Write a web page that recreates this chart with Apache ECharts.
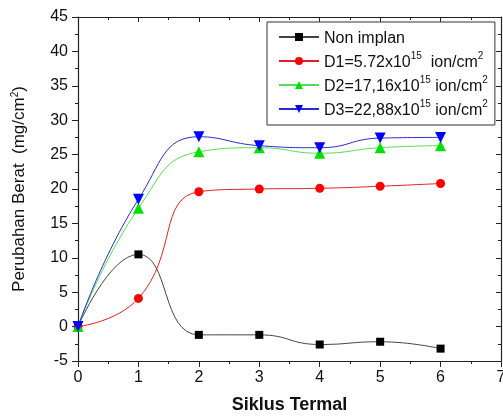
<!DOCTYPE html>
<html>
<head>
<meta charset="utf-8">
<script src="https://cdn.jsdelivr.net/npm/echarts@6/dist/echarts.min.js"></script>
<style>
  html, body { margin: 0; padding: 0; background: #fff; }
  #chart { width: 503px; height: 416px; }
</style>
</head>
<body>
<div id="chart"></div>
<script>
// siklus termal (x) dan perubahan berat (mg/cm2)
const cycles = [0, 1, 2, 3, 4, 5, 6];
const nonImplan = [0, 10.5, -1.2, -1.2, -2.6, -2.2, -3.2];
const d1 = [0, 4.1, 19.6, 20.0, 20.1, 20.4, 20.8];
const d2 = [0, 17.2, 25.4, 26.0, 25.2, 26.0, 26.3];
const d3 = [0, 18.5, 27.6, 26.3, 26.0, 27.4, 27.5];
const seriesNames = [
  'Non implan',
  'D1=5.72x10^15  ion/cm^2',
  'D2=17,16x10^15 ion/cm^2',
  'D3=22,88x10^15 ion/cm^2'
];

const FONT = 'Liberation Sans, Arial, sans-serif';
const pairs = ys => cycles.map((x, i) => [x, ys[i]]);

// teks biasa di bawah, pangkat di atas
const toRich = s => s.split(/(\^\d+)/).filter(p => p).map(p =>
  p[0] === '^' ? '{sup|' + p.slice(1) + '}' : '{t|' + p + '}'
).join('');

const chart = echarts.init(document.getElementById('chart'));

const mkSeries = (name, ys, lineColor, markColor, symbol, size, rotate) => ({
  name: name,
  type: 'line',
  data: pairs(ys),
  smooth: 0.5,
  symbol: symbol,
  symbolSize: size,
  symbolRotate: rotate || 0,
  lineStyle: { color: lineColor, width: 1 },
  itemStyle: { color: markColor },
  z: 3
});

const frameAxis = { show: true, onZero: false, lineStyle: { color: '#222', width: 1.2 } };

chart.setOption({
  animation: false,
  grid: { left: 78, top: 17, right: 2, bottom: 55, outerBoundsMode: 'none' },
  legend: {
    orient: 'vertical',
    left: 267,
    top: 22,
    padding: [9, 7, 6, 11],
    backgroundColor: '#fff',
    borderColor: '#333',
    borderWidth: 1,
    itemWidth: 40,
    itemHeight: 10,
    itemGap: 4,
    formatter: name => toRich(name),
    textStyle: {
      fontFamily: FONT,
      fontSize: 16,
      color: '#111',
      rich: {
        t: { fontFamily: FONT, fontSize: 16, color: '#111', lineHeight: 20, verticalAlign: 'bottom' },
        sup: { fontFamily: FONT, fontSize: 10, color: '#111', lineHeight: 10, verticalAlign: 'top' }
      }
    },
    data: seriesNames
  },
  xAxis: [
    {
      type: 'value',
      min: 0, max: 7, interval: 1,
      name: 'Siklus Termal',
      nameLocation: 'middle',
      nameGap: 35,
      nameTextStyle: { fontFamily: FONT, fontSize: 18, fontWeight: 'bold', color: '#111' },
      axisLine: frameAxis,
      axisTick: { show: true, length: 6, lineStyle: { color: '#222' } },
      minorTick: { show: true, splitNumber: 2, length: 3, lineStyle: { color: '#222' } },
      axisLabel: { fontFamily: FONT, fontSize: 16, color: '#111', margin: 9 },
      splitLine: { show: false }
    },
    {
      type: 'value', position: 'top',
      min: 0, max: 7, interval: 1,
      axisLine: frameAxis,
      axisTick: { show: true, inside: true, length: 5, lineStyle: { color: '#222' } },
      minorTick: { show: true, splitNumber: 2, length: 3, lineStyle: { color: '#222' } },
      axisLabel: { show: false },
      splitLine: { show: false }
    }
  ],
  yAxis: [
    {
      type: 'value',
      min: -5, max: 45, interval: 5,
      name: 'Perubahan Berat  (mg/cm{sup|2})',
      nameLocation: 'middle',
      nameGap: 50,
      nameTextStyle: {
        fontFamily: FONT, fontSize: 17, color: '#111',
        rich: { sup: { fontFamily: FONT, fontSize: 10, verticalAlign: 'top', padding: [0, 0, 8, 0] } }
      },
      axisLine: frameAxis,
      axisTick: { show: true, length: 6, lineStyle: { color: '#222' } },
      minorTick: { show: true, splitNumber: 2, length: 3, lineStyle: { color: '#222' } },
      axisLabel: { fontFamily: FONT, fontSize: 16, color: '#111', margin: 10 },
      splitLine: { show: false }
    },
    {
      type: 'value', position: 'right',
      min: -5, max: 45, interval: 5,
      axisLine: frameAxis,
      axisTick: { show: true, inside: true, length: 5, lineStyle: { color: '#222' } },
      minorTick: { show: true, splitNumber: 2, length: 3, lineStyle: { color: '#222' } },
      axisLabel: { show: false },
      splitLine: { show: false }
    }
  ],
  series: [
    mkSeries(seriesNames[0], nonImplan, '#444', '#000', 'rect', 8),
    mkSeries(seriesNames[1], d1, '#e02020', '#ff0000', 'circle', 9),
    mkSeries(seriesNames[2], d2, '#55dd55', '#00e000', 'triangle', 11),
    mkSeries(seriesNames[3], d3, '#2a2ad0', '#0000ff', 'triangle', 11, 180)
  ]
});
</script>
</body>
</html>
